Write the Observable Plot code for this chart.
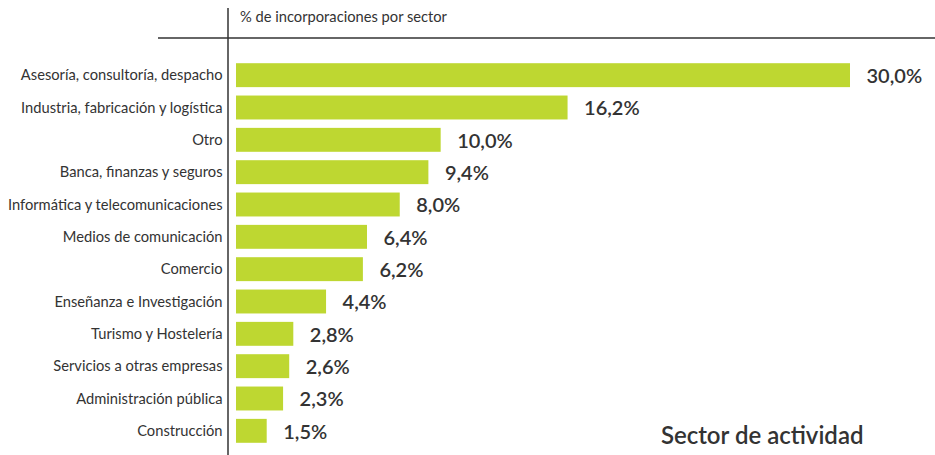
<!DOCTYPE html>
<html>
<head>
<meta charset="utf-8">
<script src="https://cdn.jsdelivr.net/npm/d3@7"></script>
<script src="https://cdn.jsdelivr.net/npm/@observablehq/plot@0.6"></script>
<style>
  html, body { margin: 0; padding: 0; background: #fff; }
  #chart svg { display: block; }
</style>
</head>
<body>
<div id="chart"></div>
<script>
const sectors = [
  "Asesoría, consultoría, despacho",
  "Industria, fabricación y logística",
  "Otro",
  "Banca, finanzas y seguros",
  "Informática y telecomunicaciones",
  "Medios de comunicación",
  "Comercio",
  "Enseñanza e Investigación",
  "Turismo y Hostelería",
  "Servicios a otras empresas",
  "Administración pública",
  "Construcción"
];
const values = [30.0, 16.2, 10.0, 9.4, 8.0, 6.4, 6.2, 4.4, 2.8, 2.6, 2.3, 1.5];
const labels = ["30,0%", "16,2%", "10,0%", "9,4%", "8,0%", "6,4%", "6,2%", "4,4%", "2,8%", "2,6%", "2,3%", "1,5%"];
const titleText = "% de incorporaciones por sector";
const footText = "Sector de actividad";

const data = sectors.map((s, i) => ({sector: s, value: values[i], label: labels[i]}));

const W = 935, H = 455;
const fontFam = "Lato, 'Open Sans', sans-serif";

const chart = Plot.plot({
  width: W,
  height: H,
  marginLeft: 236,
  marginRight: 85,
  marginTop: 59,
  marginBottom: 8,
  style: {fontFamily: fontFam, fontSize: "14.7px", color: "#333", background: "#fff"},
  x: {domain: [0, 30], axis: null},
  y: {domain: sectors, paddingInner: 0.26, paddingOuter: 0.13, round: false, label: null, tickSize: 0, tickPadding: 14},
  marks: [
    Plot.barX(data, {x: "value", y: "sector", fill: "#bed731"}),
    Plot.text(data, {x: "value", y: "sector", text: "label", textAnchor: "start", dx: 16, dy: 1,
      fontSize: 20, fontWeight: 600, fill: "#333"}),
    Plot.text([footText], {frameAnchor: "bottom-right", text: d => d, dx: 13, dy: -4,
      fontSize: 24, fontWeight: 600, fill: "#333", textAnchor: "end"})
  ]
});

const svg = d3.select(chart);
svg.append("line").attr("x1", 228).attr("x2", 228).attr("y1", 8).attr("y2", H)
  .attr("stroke", "#333").attr("stroke-width", 1.5);
svg.append("line").attr("x1", 158).attr("x2", W).attr("y1", 38).attr("y2", 38)
  .attr("stroke", "#333").attr("stroke-width", 1.5);
svg.append("text").attr("x", 240).attr("y", 22).text(titleText)
  .attr("text-anchor", "start")
  .attr("font-size", 14.7).attr("fill", "#333").attr("font-family", fontFam);

document.getElementById("chart").appendChild(chart);
</script>
</body>
</html>
